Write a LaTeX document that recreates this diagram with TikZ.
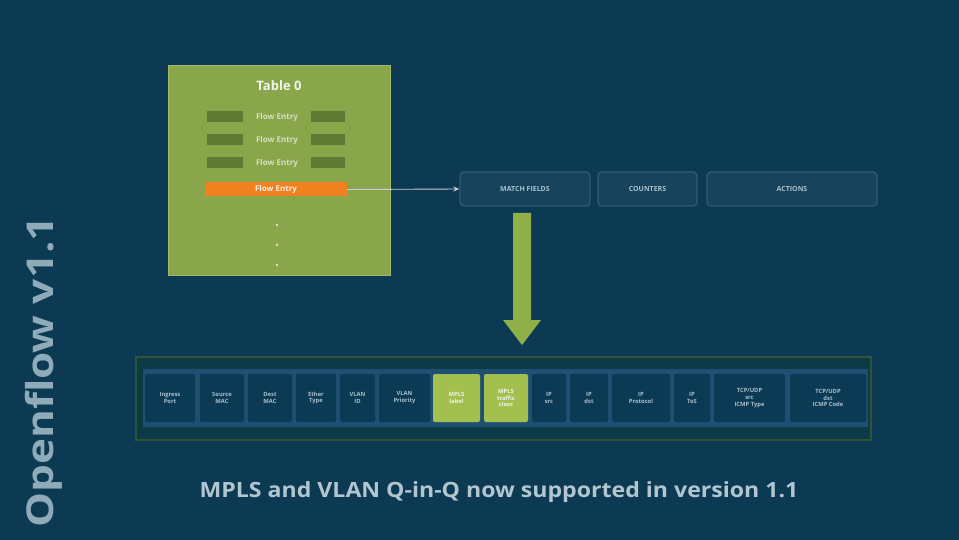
\documentclass[tikz,border=0pt]{standalone}
\usepackage{fontspec}
\setmainfont{Open Sans}
\usetikzlibrary{arrows.meta}
\definecolor{bg}{HTML}{0C3A52}
\definecolor{tgreen}{HTML}{8AA64B}
\definecolor{olive}{HTML}{5E7A33}
\definecolor{orng}{HTML}{F08020}
\definecolor{hdrline}{HTML}{2E5C74}
\definecolor{strip}{HTML}{1F5073}
\definecolor{fieldbg}{HTML}{0B3A55}
\definecolor{fieldtxt}{HTML}{A9C0CC}
\definecolor{fgreen}{HTML}{A3BF4E}
\definecolor{barline}{HTML}{2F5438}
\definecolor{barfill}{HTML}{0D3A47}
\definecolor{titlec}{HTML}{8FAAB8}
\definecolor{arrowg}{HTML}{8FAF48}
\tikzset{
  field/.style={draw=none, fill=fieldbg, rounded corners=2pt, inner sep=0pt, align=center,
    font=\bfseries\fontsize{5.8}{6.8}\selectfont, text=fieldtxt},
  gfield/.style={field, fill=fgreen, text=white!85!fgreen},
  hdr/.style={draw=hdrline, line width=1.4pt, fill=bg!95!white, rounded corners=4pt, inner sep=0pt,
    font=\bfseries\fontsize{7}{8}\selectfont, text=fieldtxt},
  olivebar/.style={fill=olive, draw=none, inner sep=0pt, minimum height=11pt},
  rowtxt/.style={inner sep=0pt, font=\bfseries\fontsize{8}{9}\selectfont, text=tgreen!35!white},
}
\begin{document}
\begin{tikzpicture}[x=1pt,y=-1pt]
\fill[bg] (0,0) rectangle (959,540);
\useasboundingbox (0,0) rectangle (959,540);

% Table 0
\node[draw=tgreen!80!white, line width=1pt, fill=tgreen, minimum width=222pt, minimum height=210pt, inner sep=0pt] (table) at (279,171) {};
\node[font=\bfseries\fontsize{13}{14}\selectfont, text=white!88!tgreen] (ttitle) at (279,86) {Table 0};
\foreach \y/\n in {117/r1,140/r2,163/r3}{
  \node[olivebar, minimum width=36pt] (\n l) at (225,\y) {};
  \node[olivebar, minimum width=34pt] (\n r) at (328,\y) {};
  \node[rowtxt] (\n) at (277,\y) {Flow Entry};
}
\node[fill=orng, minimum width=142pt, minimum height=14pt, inner sep=0pt,
  font=\bfseries\fontsize{8}{9}\selectfont, text=white!90!orng] (orow) at (276,189.5) {Flow Entry};
\foreach \y/\n in {225/d1,245/d2,265/d3}{
  \fill[white!70!tgreen] (277,\y) circle (1.3pt);
}

% header boxes
\node[hdr, minimum width=130pt, minimum height=34pt] (match) at (525,189) {MATCH FIELDS};
\node[hdr, minimum width=99pt, minimum height=34pt] (counters) at (647.5,189) {COUNTERS};
\node[hdr, minimum width=170pt, minimum height=34pt] (actions) at (792,189) {ACTIONS};

\draw[-{Stealth[length=6pt,width=5pt]}, draw=white!75!bg, line width=0.9pt] (orow.east) -- (match.west);

% big green arrow
\fill[arrowg] (513,213) -- (531,213) -- (531,320) -- (541,320) -- (522,345) -- (503,320) -- (513,320) -- cycle;

% bottom bar
\node[draw=barline, line width=1.5pt, fill=barfill, minimum width=735pt, minimum height=83pt, inner sep=0pt] (bar) at (503.5,398.5) {};
\node[fill=strip, minimum width=725pt, minimum height=58pt, inner sep=0pt] (stripn) at (505.5,398) {};

\foreach \a/\b/\t/\s/\n in {
  145/195/{Ingress\\Port}/field/f1,
  200/244/{Source\\MAC}/field/f2,
  248/292/{Dest\\MAC}/field/f3,
  296/336/{Ether\\Type}/field/f4,
  340/375/{VLAN\\ID}/field/f5,
  379/430/{VLAN\\Priority}/field/f6,
  433/480/{MPLS\\label}/gfield/f7,
  484/528/{MPLS\\traffic\\class}/gfield/f8,
  532/566/{IP\\src}/field/f9,
  570/608/{IP\\dst}/field/f10,
  612/670/{IP\\Protocol}/field/f11,
  674/710/{IP\\ToS}/field/f12,
  714/785/{TCP/UDP\\src\\ICMP Type}/field/f13,
  790/866/{TCP/UDP\\dst\\ICMP Code}/field/f14}{
  \pgfmathsetmacro{\cx}{(\a+\b)/2}
  \pgfmathsetmacro{\w}{\b-\a}
  \node[\s, minimum width=\w pt, minimum height=48pt] (\n) at (\cx,398) {\t};
}

% title
\node[rotate=90, text=titlec, inner sep=0pt] (title) at (44,372) {\scalebox{1.19}[1]{\bfseries\fontsize{37}{40}\selectfont Openflow v1.1}};

% caption
\node[text=fieldtxt!90!white, inner sep=0pt] (caption) at (499,492) {\scalebox{1.1}[1]{\bfseries\fontsize{21}{23}\selectfont MPLS and VLAN Q-in-Q now supported in version 1.1}};
\end{tikzpicture}
\end{document}
